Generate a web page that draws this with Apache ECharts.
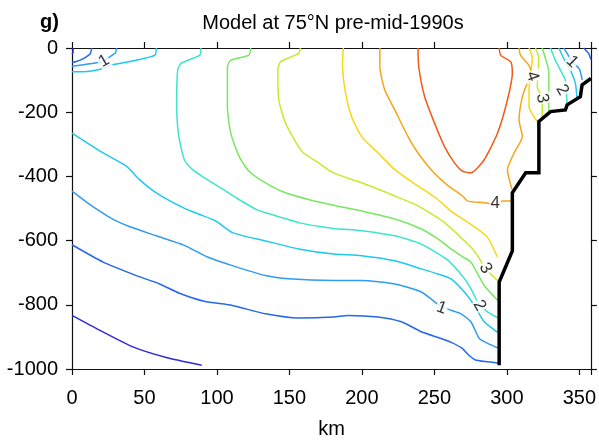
<!DOCTYPE html>
<html>
<head>
<meta charset="utf-8">
<script src="https://cdn.jsdelivr.net/npm/echarts@6/dist/echarts.min.js"></script>
<style>
  html, body { margin: 0; padding: 0; background: #fff; }
  #chart { width: 599px; height: 444px; }
</style>
</head>
<body>
<div id="chart"></div>
<script>
// contour levels (deg C) and their colours
const levels = [0, 0.5, 1, 1.5, 2, 2.5, 3, 3.5, 4, 4.5];
const levelColors = ["#2b2bdc", "#2468ec", "#2f9cf2", "#1fc9ee", "#3ee4cc",
  "#78e860", "#c4ec2c", "#f6d816", "#f8a41a", "#f45a16"];

// each level: list of pieces, points are [km, depth m]
const c00 = [
  [[0.8, 0], [0.6, -15], [0, -19]],
  [[0, -833], [19, -879], [42, -931], [65, -964], [89.5, -988]],
];
const c05 = [
  [[13.5, 0], [12.6, -18], [7.5, -34], [3, -42], [0, -45]],
  [[0, -613], [21.5, -667], [44.4, -709], [60.4, -735], [74.1, -764], [91.2, -789], [110.6, -802],
   [133.5, -828], [156.4, -841], [180.4, -838], [190.7, -833], [211.2, -838], [227.2, -853],
   [241, -884], [254.7, -905], [262, -918], [269, -935], [274, -958], [278, -971], [285, -977], [294.7, -982]],
  [[353, 0], [356.4, -17], [358, -36]],
];
const c10 = [
  [[30.7, 0], [30, -15], [26, -28], [22, -40], [16, -47], [8, -52], [0, -57]],
  [[0, -446], [10, -480], [21, -514], [28, -533], [40, -557], [58, -585], [77, -614], [94, -652],
   [110.6, -678], [133.5, -709], [149.5, -719], [180.4, -724], [199.8, -724], [222.7, -735],
   [241, -760], [250, -790], [254.5, -805], [261.5, -817], [268.4, -828], [275.2, -853],
   [281, -905], [286.7, -920], [294.7, -936]],
  [[339.3, 0], [342, -20], [345, -43], [350, -65], [352, -100]],
];
const c15 = [
  [[58.1, 0], [57.3, -22], [44.4, -38], [26.1, -54], [21.5, -64], [7.8, -74], [0, -74]],
  [[0, -265], [21.5, -327], [37.5, -368], [46.6, -410], [58.1, -451], [78.7, -502], [87.8, -518],
   [99.2, -539], [110.6, -575], [133.5, -601], [156.4, -626], [180.4, -642], [199.8, -647],
   [222.7, -663], [241, -688], [252.4, -704], [261.5, -719], [270.7, -760], [277.6, -802],
   [284.4, -853], [294.7, -889]],
  [[335.9, 0], [339.3, -33], [343.8, -69], [347.3, -110], [348.4, -158]],
];
const c20 = [
  [[89, 0], [88.2, -22], [75.2, -48], [72.9, -69], [72.2, -183], [72.9, -245], [74.1, -286],
   [77.5, -348], [83.2, -379], [91.2, -404], [106.1, -446], [115.2, -472], [126.7, -502],
   [133.5, -513], [156.4, -544], [180.4, -562], [199.8, -569], [222.7, -585], [241, -611],
   [259, -660], [270, -714], [275.2, -750], [281, -800], [286.7, -822], [294.7, -843]],
  [[330.1, 0], [333.5, -38], [337, -69], [340.4, -100], [341, -130], [341.6, -175]],
];
const c25 = [
  [[123.3, 0], [122.1, -22], [109.5, -38], [107.2, -59], [107.2, -183], [109.5, -265],
   [115.2, -337], [122.1, -384], [133.5, -420], [147.3, -451], [163.2, -472], [180.4, -490],
   [199.8, -508], [222.7, -533], [241, -564], [252.4, -595], [261.5, -626], [270, -652],
   [275.2, -667], [284.4, -740], [294.7, -791]],
  [[324.4, 0], [326.7, -33], [329, -74], [329, -131], [329, -200]],
];
const c30 = [
  [[157.5, 0], [156.4, -17], [143.8, -43], [142, -69], [142.7, -162], [147.3, -234],
   [158.6, -322], [170.1, -358], [180.4, -389], [199.8, -420], [222.7, -461], [238.7, -492],
   [257, -544], [275.2, -621], [279.8, -647], [285.3, -688], [294.7, -729]],
  [[319.8, 0], [322.1, -33], [321, -121], [324.4, -157], [324.4, -218]],
];
const c35 = [
  [[187.2, 0], [186.6, -48], [188.4, -131], [192.9, -214], [199.8, -276], [211.2, -327],
   [222.7, -379], [238.7, -430], [252.4, -472], [261.5, -508], [279.8, -564], [286.7, -590],
   [293.6, -652]],
  [[315.3, 0], [317.6, -31], [316.4, -79], [315.3, -131], [315.3, -183], [318.7, -214], [321.5, -232]],
];
const c40 = [
  [[212.4, 0], [212.4, -59], [215.8, -131], [222.7, -193], [231.8, -276], [238.7, -327],
   [247.8, -379], [257, -420], [269.5, -461], [273, -477], [284.4, -482], [291.3, -487],
   [297, -477], [303.8, -477]],
  [[308.4, 0], [309.5, -23], [315.3, -54], [317.6, -85], [314.1, -110], [310.7, -152],
   [308.4, -224], [310.7, -276], [305, -327], [300.4, -379], [303.5, -440]],
];
const c45 = [
  [[238.7, 0], [239.2, -59], [243.3, -152], [250.1, -234], [257, -307], [263.9, -358],
   [269.5, -384], [275.2, -389], [284.4, -348], [293.6, -265], [300.4, -162], [303.8, -79],
   [302.7, -43], [295.8, -23], [294.7, 0]],
];
const contours = [c00, c05, c10, c15, c20, c25, c30, c35, c40, c45];

// bottom topography (black line)
const topo = [[294.7, -988], [294.7, -729], [303.8, -632], [303.8, -451], [313, -389], [322.1, -389],
  [322.1, -229], [330.1, -198], [340.4, -193], [341.6, -177], [350.7, -152], [351.9, -115], [358, -95]];

// contour labels
const labelText = ["1", "1", "2", "3", "4", "4", "3", "2", "1"];
const labelPos = [[22, -41], [255, -810], [281, -802], [285.3, -686], [292, -485],
  [317.6, -88], [324.4, -157], [338.1, -131], [345, -43]];
const labelAngle = [30, -20, -60, -60, 0, -70, -80, -60, -45];

const xTicks = [0, 50, 100, 150, 200, 250, 300, 350];
const yTicks = [0, -200, -400, -600, -800, -1000];

const font = "'Liberation Sans', Arial, sans-serif";

var myChart = echarts.init(document.getElementById("chart"));

var series = [];
contours.forEach(function (pieces, i) {
  pieces.forEach(function (seg) {
    series.push({
      name: "T " + levels[i],
      type: "line",
      data: seg,
      showSymbol: false,
      smooth: 0.2,
      silent: true,
      lineStyle: { color: levelColors[i], width: 1.5 },
      z: 2,
    });
  });
});
series.push({
  type: "line",
  data: topo,
  showSymbol: false,
  silent: true,
  lineStyle: { color: "#000", width: 3.5, join: "miter" },
  z: 3,
});
series.push({
  type: "scatter",
  symbolSize: 0,
  silent: true,
  z: 4,
  data: labelPos.map(function (p, i) {
    return {
      value: p,
      label: { formatter: labelText[i], rotate: labelAngle[i] },
    };
  }),
  label: {
    show: true,
    position: "inside",
    fontFamily: font,
    fontSize: 17,
    color: "#000",
    backgroundColor: "#fff",
    padding: [0, 1],
  },
});

function axisCommon(extra) {
  return Object.assign({
    type: "value",
    axisLine: { show: true, onZero: false, lineStyle: { color: "#111", width: 1.2 } },
    axisTick: { show: true, inside: false, length: 6, lineStyle: { color: "#111", width: 1.2 } },
    splitLine: { show: false },
  }, extra);
}

var option = {
  animation: false,
  backgroundColor: "#fff",
  grid: { left: 72, right: 5, top: 48, bottom: 73, containLabel: false },
  graphic: [
    { type: "text", left: 40, top: 12, style: { text: "g)", font: "bold 20px " + font, fill: "#000" } },
    { type: "text", x: 333, y: 23, style: { text: "Model at 75°N pre-mid-1990s", font: "20px " + font, fill: "#000", align: "center", verticalAlign: "middle" } },
  ],
  xAxis: [
    axisCommon({
      position: "bottom", min: 0, max: 358, interval: 50,
      axisLabel: {
        fontFamily: font, fontSize: 20, color: "#000", margin: 19,
        formatter: function (v) { return xTicks.indexOf(v) >= 0 ? String(v) : ""; },
      },
      name: "km", nameLocation: "middle", nameGap: 50,
      nameTextStyle: { fontFamily: font, fontSize: 20, color: "#000" },
    }),
    axisCommon({ position: "top", min: 0, max: 358, interval: 50, axisLabel: { show: false } }),
  ],
  yAxis: [
    axisCommon({
      position: "left", min: -1000, max: 0, interval: 200,
      axisLabel: {
        fontFamily: font, fontSize: 20, color: "#000", margin: 14,
        formatter: function (v) { return yTicks.indexOf(v) >= 0 ? String(v) : ""; },
      },
    }),
    axisCommon({ position: "right", min: -1000, max: 0, interval: 200, axisLabel: { show: false } }),
  ],
  series: series,
};

myChart.setOption(option);
</script>
</body>
</html>
